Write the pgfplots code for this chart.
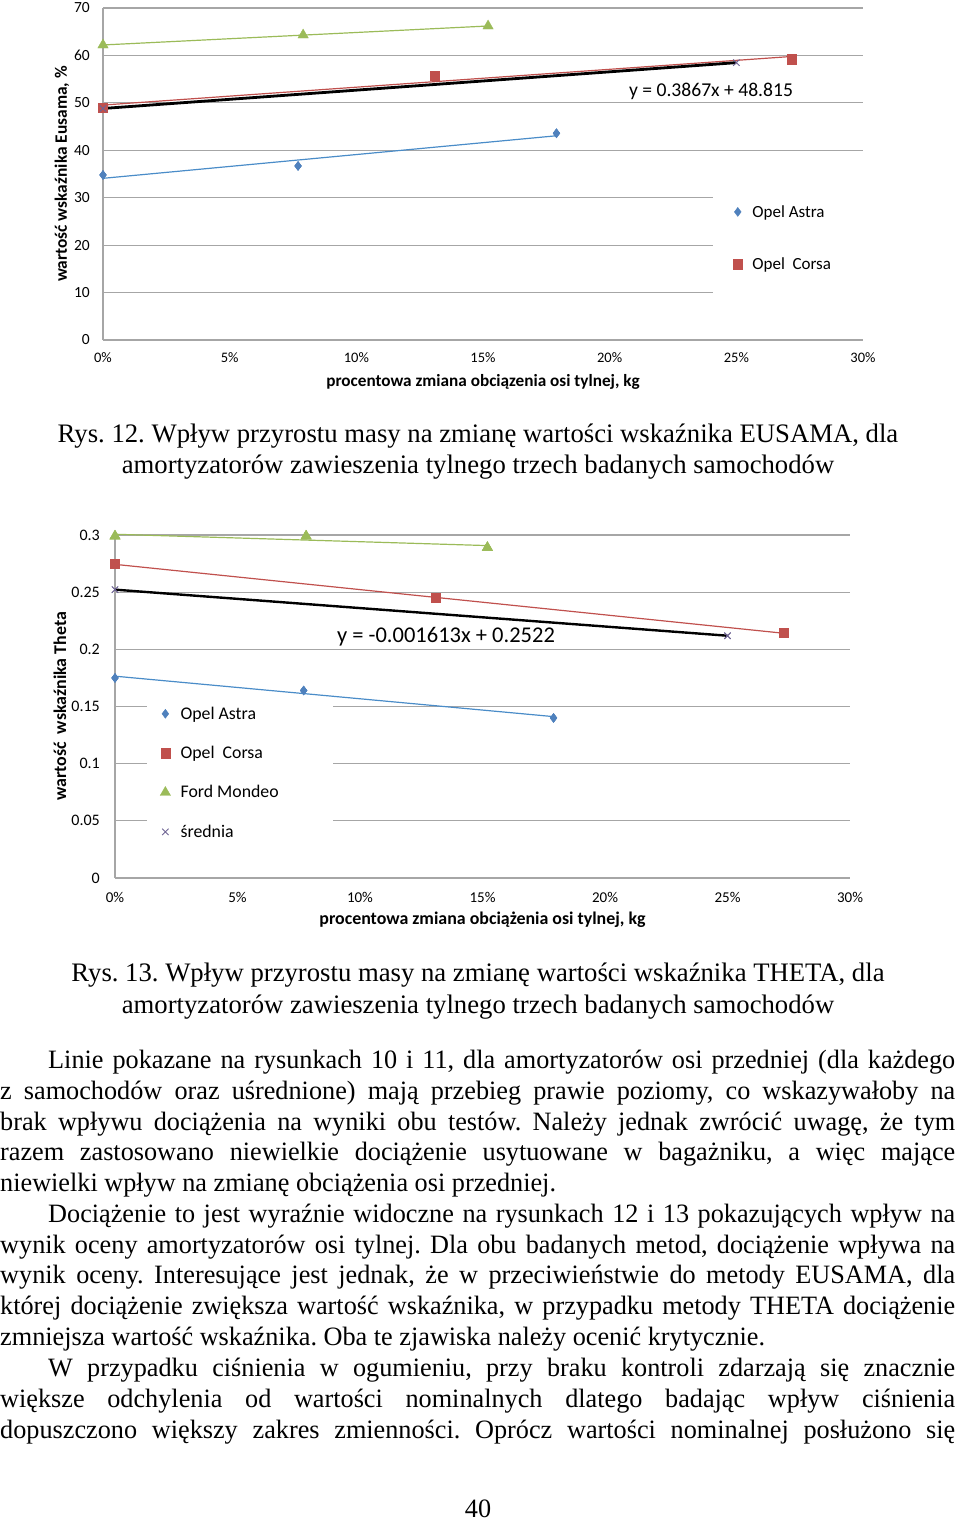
\documentclass[border=0pt]{standalone}
\usepackage{fontspec}
\setmainfont{Liberation Serif}
\newfontfamily\calfont{Carlito}
\newfontfamily\bodyf[FakeStretch=0.99]{Liberation Serif}
\usepackage{pgfplots}
\usepackage{pgfplotstable}
\pgfplotsset{compat=1.18}
\frenchspacing

\definecolor{cblue}{HTML}{4F81BD}
\definecolor{cred}{HTML}{C0504D}
\definecolor{cgreen}{HTML}{9BBB59}
\definecolor{cpurp}{HTML}{6F6494}
\definecolor{cgrid}{HTML}{A6A6A6}
\definecolor{lblue}{HTML}{4A8CC8}

% EUSAMA
\pgfplotstableread{
x y
0 34.8
7.7 36.7
17.9 43.6
}\astraE
\pgfplotstableread{
x y
0 48.9
13.1 55.7
27.2 59.2
}\corsaE
\pgfplotstableread{
x y
0 62.2
7.9 64.3
15.2 66.2
}\mondeoE
\pgfplotstableread{
x y
0 48.815
25.0 58.48
}\sredE
% THETA
\pgfplotstableread{
x y
0 0.175
7.7 0.164
17.9 0.140
}\astraT
\pgfplotstableread{
x y
0 0.2746
13.1 0.2449
27.3 0.2143
}\corsaT
\pgfplotstableread{
x y
0 0.299
7.8 0.299
15.2 0.289
}\mondeoT
\pgfplotstableread{
x y
0 0.2522
25.0 0.2119
}\sredT

\pgfplotsset{
  mystyle/.style={
    scale only axis, axis lines*=left,
    axis line style={cgrid, line width=1.2pt},
    ymajorgrids, grid style={cgrid, line width=1.2pt},
    major tick length=0pt, clip=false,
    xmin=0, xmax=30, xtick={0,5,...,30},
    xticklabels={0\%,5\%,10\%,15\%,20\%,25\%,30\%},
    yticklabel style={anchor=east, inner sep=0pt, xshift=-13pt},
    legend cell align=left,
    legend style={/tikz/every odd column/.append style={column sep=8pt}},
  },
}

\begin{document}
\begin{tikzpicture}
\useasboundingbox (0pt,0pt) rectangle (960pt,-1520pt);

% ---------- Chart 1: EUSAMA ----------
\begin{axis}[mystyle,
  at={(103pt,-340pt)}, anchor=south west,
  width=760pt, height=332pt,
  ymin=0, ymax=70, ytick={0,10,...,70},
  yticklabels={0,10,20,30,40,50,60,70},
  yticklabel style={font={\calfont\fontsize{15.5}{17}\selectfont}},
  xticklabel style={font={\calfont\fontsize{14.5}{16}\selectfont}, anchor=center, yshift=-18pt},
  xlabel={procentowa zmiana obciązenia osi tylnej, kg},
  ylabel={wartość wskaźnika Eusama, \%},
  xlabel style={font={\calfont\bfseries\fontsize{17.2}{19}\selectfont}, at={(axis description cs:0.5,-0.1265)}, anchor=center},
  ylabel style={font={\calfont\bfseries\fontsize{17.4}{19}\selectfont}, at={(axis description cs:-0.0539,0.5)}, anchor=center},
  legend style={at={(0.8026,0.542)}, anchor=north west, draw=none, fill=white,
    font={\calfont\fontsize{17}{19}\selectfont}, row sep=35pt, inner xsep=20pt, inner ysep=43pt},
]
\addplot[only marks, mark=diamond*, mark size=4.5pt, color=cblue] table {\astraE};
\addlegendentry{\makebox[120pt][l]{Opel Astra}}
\addplot[only marks, mark=square*, mark size=4.6pt, color=cred] table {\corsaE};
\addlegendentry{\makebox[120pt][l]{Opel\hspace{0.45em}Corsa}}
\addplot[lblue, line width=1.2pt, forget plot] table[y={create col/linear regression={y=y}}] {\astraE};
\addplot[cred, line width=1.2pt, forget plot] table[y={create col/linear regression={y=y}}] {\corsaE};
\addplot[cgreen, line width=1.2pt, forget plot] table[y={create col/linear regression={y=y}}] {\mondeoE};
\addplot[black, line width=2.8pt, forget plot] table[y={create col/linear regression={y=y}}] {\sredE};
\addplot[only marks, mark=diamond*, mark size=4.5pt, color=cblue, forget plot] table {\astraE};
\addplot[only marks, mark=square*, mark size=4.6pt, color=cred, forget plot] table {\corsaE};
\addplot[only marks, mark=triangle*, mark size=6pt, color=cgreen, forget plot] table {\mondeoE};
\addplot[only marks, mark=x, mark size=4.5pt, color=cpurp, line width=0.8pt, forget plot] table {\sredE};
\node[font={\calfont\fontsize{19.6}{22}\selectfont}] at (axis cs:24.0,52.5) {y = 0.3867x + 48.815};
\end{axis}

\node[anchor=base, inner sep=0pt, font=\fontsize{26.7}{31}\selectfont] at (478pt,-442pt) {Rys. 12. Wpływ przyrostu masy na zmianę wartości wskaźnika EUSAMA, dla};
\node[anchor=base, inner sep=0pt, font=\fontsize{26.7}{31}\selectfont] at (478pt,-473pt) {amortyzatorów zawieszenia tylnego trzech badanych samochodów};

% ---------- Chart 2: THETA ----------
\begin{axis}[mystyle,
  at={(115pt,-878pt)}, anchor=south west,
  width=735pt, height=343pt,
  ymin=0, ymax=0.3, ytick={0,0.05,...,0.3},
  yticklabels={0,0.05,0.1,0.15,0.2,0.25,0.3},
  yticklabel style={font={\calfont\fontsize{16}{18}\selectfont}, xshift=-2pt},
  xticklabel style={font={\calfont\fontsize{15}{17}\selectfont}, anchor=center, yshift=-19pt},
  xlabel={procentowa zmiana obciążenia osi tylnej, kg},
  ylabel={wartość\ \ wskaźnika Theta},
  xlabel style={font={\calfont\bfseries\fontsize{17.9}{20}\selectfont}, at={(axis description cs:0.5,-0.1224)}, anchor=center},
  ylabel style={font={\calfont\bfseries\fontsize{17.9}{20}\selectfont}, at={(axis description cs:-0.0748,0.5)}, anchor=center},
  legend style={at={(0.0435,0.52)}, anchor=north west, draw=none, fill=white,
    font={\calfont\fontsize{17.8}{20}\selectfont}, row sep=21.5pt, inner xsep=13pt, inner ysep=5pt},
]
\addplot[only marks, mark=diamond*, mark size=4.5pt, color=cblue] table {\astraT};
\addlegendentry{\makebox[137pt][l]{Opel Astra}}
\addplot[only marks, mark=square*, mark size=4.6pt, color=cred] table {\corsaT};
\addlegendentry{Opel\hspace{0.45em}Corsa}
\addplot[only marks, mark=triangle*, mark size=6pt, color=cgreen] table {\mondeoT};
\addlegendentry{Ford Mondeo}
\addplot[only marks, mark=x, mark size=4.5pt, color=cpurp, line width=0.8pt] table {\sredT};
\addlegendentry{średnia}
\addplot[lblue, line width=1.2pt, forget plot] table[y={create col/linear regression={y=y}}] {\astraT};
\addplot[cred, line width=1.2pt, forget plot] table[y={create col/linear regression={y=y}}] {\corsaT};
\addplot[cgreen, line width=1.2pt, forget plot] table[y={create col/linear regression={y=y}}] {\mondeoT};
\addplot[black, line width=2.4pt, forget plot] table[y={create col/linear regression={y=y}}] {\sredT};
\addplot[only marks, mark=diamond*, mark size=4.5pt, color=cblue, forget plot] table {\astraT};
\addplot[only marks, mark=square*, mark size=4.6pt, color=cred, forget plot] table {\corsaT};
\addplot[only marks, mark=triangle*, mark size=6pt, color=cgreen, forget plot] table {\mondeoT};
\addplot[only marks, mark=x, mark size=4.5pt, color=cpurp, line width=0.8pt, forget plot] table {\sredT};
\node[font={\calfont\fontsize{22.5}{25}\selectfont}] at (axis cs:13.51,0.2108) {y = -0.001613x + 0.2522};
\end{axis}

\node[anchor=base, inner sep=0pt, font=\fontsize{26.7}{31}\selectfont] at (478pt,-981pt) {Rys. 13. Wpływ przyrostu masy na zmianę wartości wskaźnika THETA, dla};
\node[anchor=base, inner sep=0pt, font=\fontsize{26.7}{31}\selectfont] at (478pt,-1013pt) {amortyzatorów zawieszenia tylnego trzech badanych samochodów};

% ---------- Body text ----------
\begin{scope}[every node/.style={anchor=base west, inner sep=0pt, font=\bodyf\fontsize{26.5}{31}\selectfont}]
\node at (48pt,-1068pt) {\makebox[907pt][s]{Linie pokazane na rysunkach 10 i 11, dla amortyzatorów osi przedniej (dla każdego}};
\node at (0pt,-1099pt) {\makebox[955pt][s]{z samochodów oraz uśrednione) mają przebieg prawie poziomy, co wskazywałoby na}};
\node at (0pt,-1130pt) {\makebox[955pt][s]{brak wpływu dociążenia na wyniki obu testów. Należy jednak zwrócić uwagę, że tym}};
\node at (0pt,-1160pt) {\makebox[955pt][s]{razem zastosowano niewielkie dociążenie usytuowane w bagażniku, a więc mające}};
\node at (0pt,-1191pt) {niewielki wpływ na zmianę obciążenia osi przedniej.};
\node at (48pt,-1222pt) {\makebox[907pt][s]{Dociążenie to jest wyraźnie widoczne na rysunkach 12 i 13 pokazujących wpływ na}};
\node at (0pt,-1253pt) {\makebox[955pt][s]{wynik oceny amortyzatorów osi tylnej. Dla obu badanych metod, dociążenie wpływa na}};
\node at (0pt,-1283pt) {\makebox[955pt][s]{wynik oceny. Interesujące jest jednak, że w przeciwieństwie do metody EUSAMA, dla}};
\node at (0pt,-1314pt) {\makebox[955pt][s]{której dociążenie zwiększa wartość wskaźnika, w przypadku metody THETA dociążenie}};
\node at (0pt,-1345pt) {zmniejsza wartość wskaźnika. Oba te zjawiska należy ocenić krytycznie.};
\node at (48pt,-1376pt) {\makebox[907pt][s]{W przypadku ciśnienia w ogumieniu, przy braku kontroli zdarzają się znacznie}};
\node at (0pt,-1407pt) {\makebox[955pt][s]{większe odchylenia od wartości nominalnych dlatego badając wpływ ciśnienia}};
\node at (0pt,-1438pt) {\makebox[955pt][s]{dopuszczono większy zakres zmienności. Oprócz wartości nominalnej posłużono się}};
\node[anchor=base] at (478pt,-1517pt) {40};
\end{scope}
\end{tikzpicture}
\end{document}
